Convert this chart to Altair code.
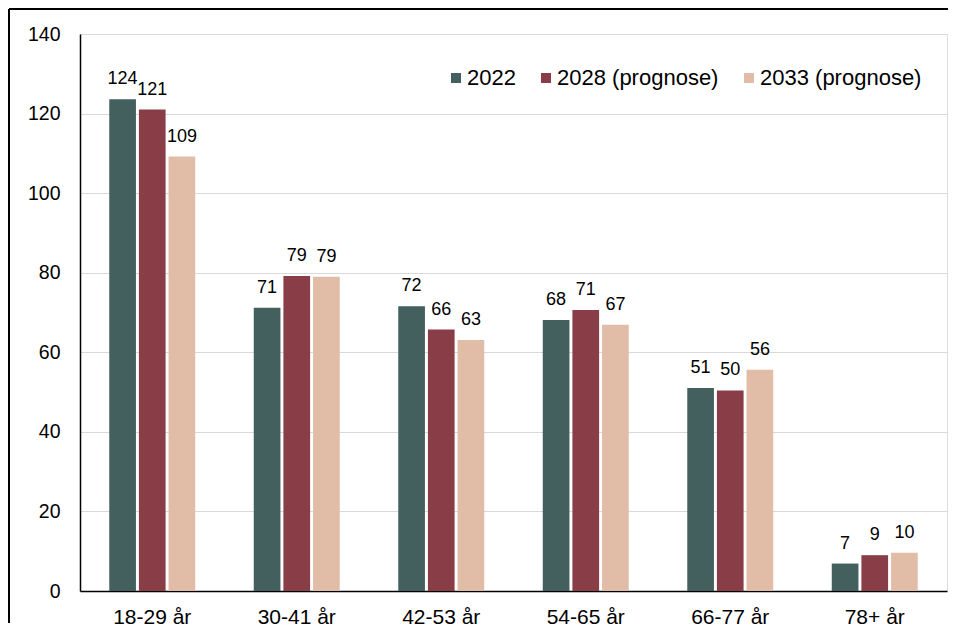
import altair as alt
import pandas as pd

groups = ["18-29 år", "30-41 år", "42-53 år", "54-65 år", "66-77 år", "78+ år"]
series = ["2022", "2028 (prognose)", "2033 (prognose)"]
v2022 = [123.6, 71.2, 71.6, 68.1, 51.0, 6.9]
v2028 = [121.0, 79.2, 65.7, 70.6, 50.4, 9.0]
v2033 = [109.2, 79.0, 63.1, 66.9, 55.6, 9.6]
colors = ["#43605E", "#893D46", "#E1BCA7"]
y_ticks = [0, 20, 40, 60, 80, 100, 120, 140]

rows = []
for s, vals in zip(series, [v2022, v2028, v2033]):
    for g, v in zip(groups, vals):
        rows.append({"gruppe": g, "serie": s, "verdi": v})
df = pd.DataFrame(rows)

FONT = "Liberation Sans"
W, H = 867, 557
PAD = {"left": 72, "top": 26, "right": 5, "bottom": 36}

x_enc = alt.X("gruppe:N", sort=groups,
              scale=alt.Scale(paddingInner=0.405, paddingOuter=0.2025),
              axis=alt.Axis(title=None, labelAngle=0, ticks=False, labelPadding=15,
                            labelFontSize=21, domainColor="#000000", domainWidth=1.5))
xoff_enc = alt.XOffset("serie:N", sort=series,
                       scale=alt.Scale(paddingInner=0.1, paddingOuter=0))
y_enc = alt.Y("verdi:Q", scale=alt.Scale(domain=[0, 140], nice=False),
              axis=alt.Axis(title=None, values=y_ticks, ticks=False, labelPadding=20,
                            labelFontSize=19.5, domainColor="#000000", domainWidth=1.5,
                            gridColor="#D9D9D9", gridWidth=1))

bars = alt.Chart(df).mark_bar().encode(
    x=x_enc,
    xOffset=xoff_enc,
    y=y_enc,
    color=alt.Color("serie:N", sort=series,
                    scale=alt.Scale(domain=series, range=colors),
                    legend=alt.Legend(title=None, orient="none", direction="horizontal",
                                      legendX=365, legendY=33, symbolType="square",
                                      symbolSize=100, symbolStrokeWidth=0,
                                      labelFontSize=22, labelOffset=0, columnPadding=19,
                                      labelLimit=400, labelColor="#000000")),
)

labels = alt.Chart(df).mark_text(baseline="alphabetic", dy=-15, fontSize=18,
                                 color="#000000", font=FONT).encode(
    x=alt.X("gruppe:N", sort=groups),
    xOffset=alt.XOffset("serie:N", sort=series),
    y=alt.Y("verdi:Q"),
    text=alt.Text("verdi:Q", format=".0f"),
)

# decorative outer frame (top and left edges), kept well inside the svg bounds
frame_src = pd.DataFrame({"f": [1]})
frame_top = alt.Chart(frame_src).mark_rule(color="#000000", strokeWidth=2).encode(
    x=alt.value(-71), x2=alt.value(W + PAD["right"] - 4), y=alt.value(-25)
)
frame_left = alt.Chart(frame_src).mark_rule(color="#000000", strokeWidth=2).encode(
    x=alt.value(-71), y=alt.value(-25), y2=alt.value(H + PAD["bottom"] - 4)
)

chart = alt.layer(bars, labels, frame_top, frame_left).properties(
    width=W, height=H,
    autosize=alt.AutoSizeParams(type="none"),
    padding=PAD,
).configure_view(strokeWidth=0).configure(
    font=FONT
).configure_axis(labelColor="#000000", labelFont=FONT).configure_legend(labelFont=FONT)

chart.save("out.html", embed_options={"renderer": "svg", "actions": False})
